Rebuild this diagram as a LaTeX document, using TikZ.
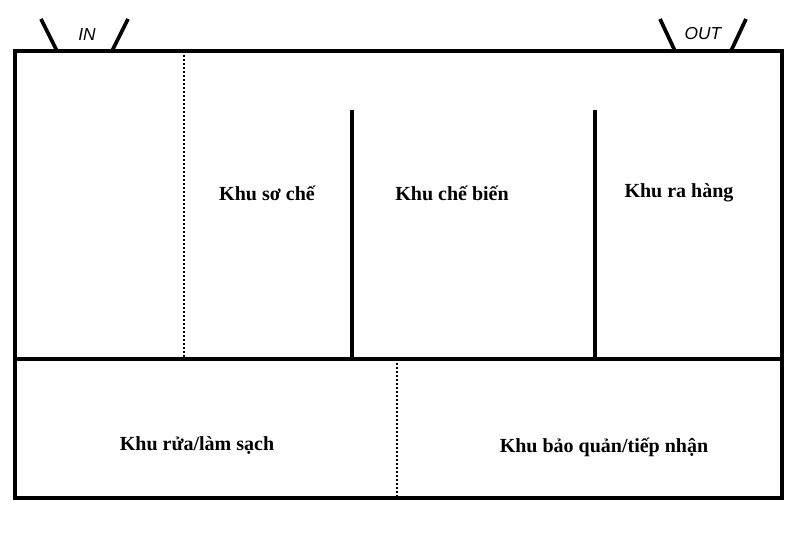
\documentclass[tikz,border=0pt]{standalone}
\usepackage{fontspec}
\setmainfont{Liberation Serif}
\setsansfont{Liberation Sans}

\tikzset{every picture/.style={line width=0.75pt}}
\tikzset{
  zonelabel/.style={font=\fontsize{15}{17}\selectfont\bfseries},
  doorlabel/.style={font=\fontsize{13}{15}\selectfont\sffamily\itshape},
  wall/.style={line width=2.6pt},
  thickwall/.style={line width=3.2pt},
  doorleaf/.style={line width=2.8pt},
  softwall/.style={line width=1.3pt, dash pattern=on 1.5pt off 1.5pt}
}

\begin{document}
\begin{tikzpicture}[x=0.75pt,y=0.75pt,yscale=-1,xscale=1]
\useasboundingbox (0,0) rectangle (800,534);

%Corners of the kitchen
\coordinate (nw) at (15,51);
\coordinate (ne) at (782,51);
\coordinate (se) at (782,498);
\coordinate (sw) at (15,498);
\coordinate (midw) at (15,359);
\coordinate (mide) at (782,359);

%Dotted partitions
\draw [softwall]   (184,51) -- (184,359) ;
\draw [softwall]   (397,359) -- (397,498) ;
%Thick walls
\draw [thickwall]   (352,110) -- (352,359) ;
\draw [thickwall]   (595,110) -- (595,359) ;
%Straight Lines
\draw [wall]   (midw) -- (mide) ;
%Shape: Rectangle
\draw [wall]   (nw) -- (ne) -- (se) -- (sw) -- cycle ;

%Door IN
\draw [doorleaf]   (41,19) -- (57,51) ;
\draw [doorleaf]   (128,19) -- (112,51) ;
\node [doorlabel] (in) at (87,35) {IN};
%Door OUT
\draw [doorleaf]   (660,19) -- (675,51) ;
\draw [doorleaf]   (746,19) -- (731,51) ;
\node [doorlabel] (out) at (703,34) {OUT};

%Zones
\node [zonelabel] (soche) at (267,193) {Khu sơ chế};
\node [zonelabel] (chebien) at (452,193) {Khu chế biến};
\node [zonelabel] (rahang) at (679,193) {Khu ra hàng};
\node [zonelabel] (ruasach) at (197,446) {Khu rửa/làm sạch};
\node [zonelabel] (baoquan) at (604,447) {Khu bảo quản/tiếp nhận};

\end{tikzpicture}
\end{document}
